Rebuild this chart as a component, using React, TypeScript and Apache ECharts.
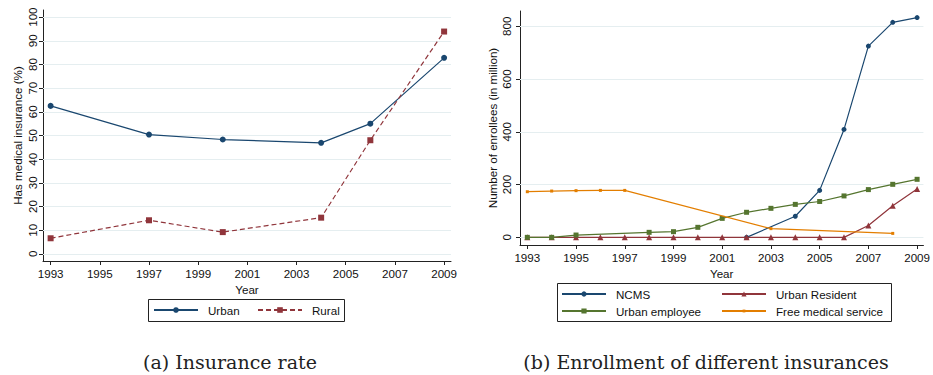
import React, { useEffect, useRef } from "react";
import * as echarts from "echarts";

// ---- data: panel (a) ----
const rateYears = [1993, 1997, 2000, 2004, 2006, 2009];
const urbanRate = [62.5, 50.4, 48.3, 46.9, 55.0, 82.8];
const ruralRate = [6.6, 14.2, 9.2, 15.3, 48.0, 93.9];
const leftYTicks = [0, 10, 20, 30, 40, 50, 60, 70, 80, 90, 100];

// ---- data: panel (b) ----
const ncmsYears = [2002, 2004, 2005, 2006, 2007, 2008, 2009];
const ncmsValues = [0, 80, 178, 409, 725, 815, 833];
const residentYears = [1993, 1994, 1995, 1996, 1997, 1998, 1999, 2000, 2001, 2002, 2003, 2004, 2005, 2006, 2007, 2008, 2009];
const residentValues = [0, 0, 0, 0, 0, 0, 0, 0, 0, 0, 0, 0, 0, 0, 45, 120, 183];
const employeeYears = [1993, 1994, 1995, 1998, 1999, 2000, 2001, 2002, 2003, 2004, 2005, 2006, 2007, 2008, 2009];
const employeeValues = [0, 0, 8.8, 19, 21.5, 38, 72, 95, 110, 125, 136, 157, 181, 201, 220];
const freeYears = [1993, 1994, 1995, 1996, 1997, 2003, 2008];
const freeValues = [173, 175.5, 177, 178, 178, 33, 15];
const rightYTicks = [0, 200, 400, 600, 800];

const xTicks = [1993, 1995, 1997, 1999, 2001, 2003, 2005, 2007, 2009];

const pairs = (xs: number[], ys: number[]) => xs.map((x, i) => [x, ys[i]]);

const FONT = "Liberation Sans";
const TXT = "#111";
const AX = "#222";
const GRIDC = "#e5eef0";
const NAVY = "#1a476f";
const MAROON = "#90353b";
const GREEN = "#55752f";
const ORANGE = "#e37e00";
const FS = 11.6;

function xAxisCfg(gridIndex: number, min: number, max: number, nameGap: number) {
  return {
    type: "value",
    gridIndex,
    min,
    max,
    name: "Year",
    nameLocation: "middle",
    nameGap,
    nameTextStyle: { color: TXT, fontSize: FS, fontFamily: FONT },
    axisLine: { show: true, onZero: false, lineStyle: { color: AX, width: 1 } },
    axisTick: { show: true, length: 4, customValues: xTicks, lineStyle: { color: AX } },
    axisLabel: { customValues: xTicks, margin: 6, color: TXT, fontSize: FS, fontFamily: FONT, formatter: (v: number) => String(v) },
    splitLine: { show: false },
  };
}

function yAxisCfg(gridIndex: number, min: number, max: number, ticks: number[], name: string, nameGap: number, margin: number) {
  return {
    type: "value",
    gridIndex,
    min,
    max,
    name,
    nameLocation: "middle",
    nameRotate: 90,
    nameGap,
    nameTextStyle: { color: TXT, fontSize: FS, fontFamily: FONT },
    axisLine: { show: true, onZero: false, lineStyle: { color: AX, width: 1 } },
    axisTick: { show: true, length: 4, customValues: ticks, lineStyle: { color: AX } },
    axisLabel: { customValues: ticks, rotate: 90, margin, color: TXT, fontSize: FS, fontFamily: FONT, formatter: (v: number) => String(v) },
    splitLine: { show: false },
  };
}

const gridMark = (ticks: number[]) => ({
  silent: true,
  z: 1,
  symbol: ["none", "none"],
  label: { show: false },
  emphasis: { disabled: true },
  lineStyle: { color: GRIDC, width: 1, type: "solid" },
  data: ticks.map((v) => ({ yAxis: v })),
});

const legendBase = {
  orient: "horizontal",
  padding: 0,
  itemWidth: 44,
  itemHeight: 7,
  selectedMode: false,
  textStyle: { color: TXT, fontSize: FS, fontFamily: FONT, padding: [0, 0, 0, 5] },
};

export default function App() {
  const ref = useRef<HTMLDivElement>(null);
  useEffect(() => {
    if (!ref.current) return;
    const chart = echarts.init(ref.current, undefined, { renderer: "svg" });
    const option: any = {
      animation: false,
      backgroundColor: "#fff",
      textStyle: { fontFamily: FONT },
      grid: [
        { left: 43, top: 10, width: 408, height: 251 },
        { left: 520, top: 11, width: 407, height: 234 },
      ],
      xAxis: [xAxisCfg(0, 1992.69, 2009.28, 20), xAxisCfg(1, 1992.7, 2009.26, 18)],
      yAxis: [
        yAxisCfg(0, -3, 103, leftYTicks, "Has medical insurance (%)", 20, 5),
        yAxisCfg(1, -29, 858, rightYTicks, "Number of enrollees (in million)", 22, 8),
      ],
      legend: [
        { ...legendBase, data: ["Urban"], left: 153, top: 304 },
        { ...legendBase, data: ["Rural"], left: 257, top: 304 },
        { ...legendBase, data: ["NCMS"], left: 561, top: 288, itemHeight: 6.5 },
        { ...legendBase, data: ["Urban Resident"], left: 721, top: 288, itemHeight: 6.5 },
        { ...legendBase, data: ["Urban employee"], left: 561, top: 305, itemHeight: 6.5 },
        { ...legendBase, data: ["Free medical service"], left: 721, top: 305, itemHeight: 3.5 },
      ],
      graphic: [
        {
          type: "rect",
          silent: true,
          shape: { x: 148.5, y: 299.5, width: 196, height: 22 },
          style: { fill: "rgba(0,0,0,0)", stroke: AX, lineWidth: 1 },
        },
        {
          type: "rect",
          silent: true,
          shape: { x: 557.5, y: 283.5, width: 334, height: 38 },
          style: { fill: "rgba(0,0,0,0)", stroke: AX, lineWidth: 1 },
        },
        {
          type: "text",
          x: 230,
          y: 362,
          silent: true,
          style: {
            text: "(a) Insurance rate",
            fill: "#222",
            font: '19px "DejaVu Serif", serif',
            textAlign: "center",
            textVerticalAlign: "middle",
            verticalAlign: "middle",
          },
        },
        {
          type: "text",
          x: 706,
          y: 362,
          silent: true,
          style: {
            text: "(b) Enrollment of different insurances",
            fill: "#222",
            font: '19px "DejaVu Serif", serif',
            textAlign: "center",
            textVerticalAlign: "middle",
            verticalAlign: "middle",
          },
        },
      ],
      series: [
        {
          name: "Urban",
          type: "line",
          xAxisIndex: 0,
          yAxisIndex: 0,
          z: 2,
          data: pairs(rateYears, urbanRate),
          symbol: "circle",
          symbolSize: 6,
          showAllSymbol: true,
          lineStyle: { color: NAVY, width: 1.2 },
          itemStyle: { color: NAVY },
          markLine: gridMark(leftYTicks),
        },
        {
          name: "Rural",
          type: "line",
          xAxisIndex: 0,
          yAxisIndex: 0,
          z: 3,
          data: pairs(rateYears, ruralRate),
          symbol: "rect",
          symbolSize: 6,
          showAllSymbol: true,
          lineStyle: { color: MAROON, width: 1.2, type: [5, 3] },
          itemStyle: { color: MAROON },
        },
        {
          name: "NCMS",
          type: "line",
          xAxisIndex: 1,
          yAxisIndex: 1,
          z: 2,
          data: pairs(ncmsYears, ncmsValues),
          symbol: "circle",
          symbolSize: 5,
          showAllSymbol: true,
          lineStyle: { color: NAVY, width: 1.2 },
          itemStyle: { color: NAVY },
          markLine: gridMark(rightYTicks),
        },
        {
          name: "Urban Resident",
          type: "line",
          xAxisIndex: 1,
          yAxisIndex: 1,
          z: 3,
          data: pairs(residentYears, residentValues),
          symbol: "triangle",
          symbolSize: 6,
          showAllSymbol: true,
          lineStyle: { color: MAROON, width: 1.2 },
          itemStyle: { color: MAROON },
        },
        {
          name: "Urban employee",
          type: "line",
          xAxisIndex: 1,
          yAxisIndex: 1,
          z: 4,
          data: pairs(employeeYears, employeeValues),
          symbol: "rect",
          symbolSize: 5,
          showAllSymbol: true,
          lineStyle: { color: GREEN, width: 1.2 },
          itemStyle: { color: GREEN },
        },
        {
          name: "Free medical service",
          type: "line",
          xAxisIndex: 1,
          yAxisIndex: 1,
          z: 5,
          data: pairs(freeYears, freeValues),
          symbol: "rect",
          symbolSize: 3,
          showAllSymbol: true,
          lineStyle: { color: ORANGE, width: 1.2 },
          itemStyle: { color: ORANGE },
        },
      ],
    };
    chart.setOption(option);
    return () => chart.dispose();
  }, []);
  return (
    <div
      ref={ref}
      style={{ position: "fixed", left: 0, top: 0, width: 933, height: 375, background: "#fff" }}
    />
  );
}
